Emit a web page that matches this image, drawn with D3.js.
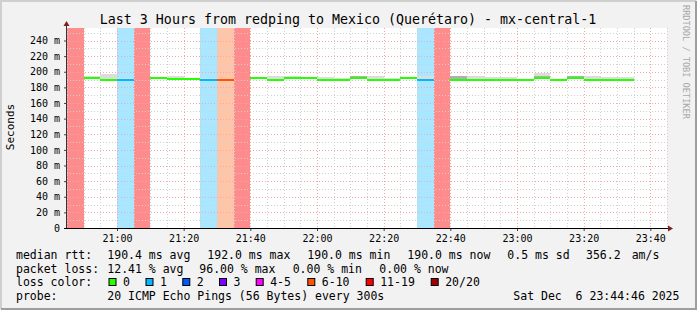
<!DOCTYPE html>
<html>
<head>
<meta charset="utf-8">
<script src="https://cdn.jsdelivr.net/npm/d3@7"></script>
<style>
  body { margin: 0; background: #fff; }
  text { font-family: "DejaVu Sans Mono", monospace; }
</style>
</head>
<body>
<script>
// 5 minute bins from 20:45 to 23:45, median rtt in ms (null = no median drawn)
var binStart = new Date(2025, 11, 6, 20, 45);
var medians = [null, 192, 189.5, 190, null, 192, 190.5, 190.5, 190, 190, null, 192,
    190, 191.5, 191.5, 190, 190, 191.5, 190, 190, 191.5, 190, null, 190,
    190, 190, 190, 190, 192, 190, 192, 190, 190, 190, null, null];
// lost pings out of 20 per bin
var losses = [19, 0, 0, 1, 19, 0, 0, 0, 1, 7, 19, 0,
    0, 0, 0, 0, 0, 0, 0, 0, 0, 1, 19, 0,
    0, 0, 0, 0, 0, 0, 0, 0, 0, 0, null, null];
// smoke: light top and darker top (ms)
var smokeHi = [null, 194, 197, 192, null, 192.5, 194, 191.5, 191.5, 190.5, null, 193,
    194, 195, 193, 193, 192, 195, 194, 192, 191.5, 195, null, 194,
    195, 193, 193, 190.5, 199, 191, 195, 194, 193, 193, null, null];
var smokeMid = [null, 193, 191, 191, null, 192.5, 191, 191, 190.5, 190.5, null, 193,
    191, 192.5, 192.5, 191, 191, 195, 191, 191, 191.5, 191, null, 194,
    191, 191, 191, 190.5, 195, 191, 195, 191, 191, 191, null, null];

var yTicks = [0, 20, 40, 60, 80, 100, 120, 140, 160, 180, 200, 220, 240];
var lossLabels = ["0", "1", "2", "3", "4-5", "6-10", "11-19", "20/20"];
var lossColors = ["#26ff00", "#00b8ff", "#0059ff", "#7e00ff", "#ff00ff", "#ff5500", "#ff0000", "#a10000"];

var title = "Last 3 Hours from redping to Mexico (Querétaro) - mx-central-1";

function lossIndex (n) {
    if (n === 0) return 0;
    if (n === 1) return 1;
    if (n === 2) return 2;
    if (n === 3) return 3;
    if (n <= 5) return 4;
    if (n <= 10) return 5;
    if (n <= 19) return 6;
    return 7;
}

function drawChart () {
    var width = 697, height = 310;
    var left = 67, right = 667, top = 28, bottom = 228;

    var svg = d3.select("body").append("svg")
        .attr("width", width)
        .attr("height", height);

    // canvas + shaded frame
    svg.append("rect").attr("width", width).attr("height", height).attr("fill", "#f2f2f2");
    svg.append("path").attr("d", "M1,309V1H696").attr("fill", "none").attr("stroke", "#cfcfcf").attr("stroke-width", 2);
    svg.append("path").attr("d", "M1,309H696V1").attr("fill", "none").attr("stroke", "#9e9e9e").attr("stroke-width", 2);

    var x = d3.scaleTime()
        .domain([binStart, new Date(binStart.getTime() + 180 * 60000)])
        .range([left, right]);
    var y = d3.scaleLinear().domain([0, 256]).range([bottom, top]);

    function binX (i) { return x(new Date(binStart.getTime() + i * 5 * 60000)); }
    var bw = binX(1) - binX(0);

    svg.append("rect")
        .attr("x", left).attr("y", top)
        .attr("width", right - left).attr("height", bottom - top)
        .attr("fill", "#fff");

    var bins = d3.range(medians.length);

    // loss background bands
    svg.append("g").attr("shape-rendering", "crispEdges").selectAll("rect")
        .data(bins.filter(function (i) { return losses[i] > 0; }))
        .enter().append("rect")
        .attr("x", function (i) { return binX(i); })
        .attr("y", top)
        .attr("width", bw)
        .attr("height", bottom - top)
        .attr("fill", function (i) { return lossColors[lossIndex(losses[i])]; })
        .attr("fill-opacity", function (i) { return lossIndex(losses[i]) >= 6 ? 0.45 : 0.34; });

    // grid
    var grid = svg.append("g").attr("shape-rendering", "crispEdges");
    var minorY = d3.range(10, 256, 10);
    grid.selectAll(".gy").data(minorY).enter().append("line")
        .attr("x1", left).attr("x2", right)
        .attr("y1", function (d) { return Math.round(y(d)) + 0.5; })
        .attr("y2", function (d) { return Math.round(y(d)) + 0.5; })
        .attr("stroke", function (d) { return d % 20 === 0 ? "#f0a8a8" : "#d0d0d0"; })
        .attr("stroke-dasharray", "1,2");
    var minorX = x.ticks(d3.timeMinute.every(5));
    grid.selectAll(".gx").data(minorX).enter().append("line")
        .attr("y1", top).attr("y2", bottom)
        .attr("x1", function (d) { return Math.round(x(d)) + 0.5; })
        .attr("x2", function (d) { return Math.round(x(d)) + 0.5; })
        .attr("stroke", function (d) { return d.getMinutes() % 20 === 0 ? "#f0a8a8" : "#d0d0d0"; })
        .attr("stroke-dasharray", "1,2");

    var marks = svg.append("g").attr("shape-rendering", "crispEdges");

    // smoke
    var withSmoke = bins.filter(function (i) { return smokeHi[i] !== null && medians[i] !== null; });
    marks.append("g").selectAll("rect")
        .data(withSmoke)
        .enter().append("rect")
        .attr("x", function (i) { return binX(i); })
        .attr("y", function (i) { return Math.round(y(smokeHi[i])); })
        .attr("width", bw)
        .attr("height", function (i) { return Math.max(0, Math.round(y(medians[i])) - Math.round(y(smokeHi[i]))); })
        .attr("fill", "#dcdcdc");
    marks.append("g").selectAll("rect")
        .data(withSmoke)
        .enter().append("rect")
        .attr("x", function (i) { return binX(i); })
        .attr("y", function (i) { return Math.round(y(smokeMid[i])); })
        .attr("width", bw)
        .attr("height", function (i) { return Math.max(0, Math.round(y(medians[i])) - Math.round(y(smokeMid[i]))); })
        .attr("fill", "#b0b0b0");

    // median, coloured by loss
    marks.append("g").selectAll("rect")
        .data(bins.filter(function (i) { return medians[i] !== null; }))
        .enter().append("rect")
        .attr("x", function (i) { return binX(i); })
        .attr("y", function (i) { return Math.round(y(medians[i])) - 1; })
        .attr("width", bw)
        .attr("height", 2)
        .attr("fill", function (i) { return lossColors[lossIndex(losses[i])]; });

    // axes
    var yAxis = d3.axisLeft(y).tickValues(yTicks).tickSize(3).tickPadding(4)
        .tickFormat(function (d) { return d === 0 ? "0" : d + " m"; });
    var yg = svg.append("g").attr("transform", "translate(" + left + ",0)").call(yAxis);
    var xAxis = d3.axisBottom(x).ticks(d3.timeMinute.every(20)).tickSize(3).tickPadding(4)
        .tickFormat(d3.timeFormat("%H:%M"));
    var xg = svg.append("g").attr("transform", "translate(0," + bottom + ")").call(xAxis);
    [yg, xg].forEach(function (g) {
        g.select(".domain").remove();
        g.selectAll("line").attr("stroke", "#444");
        g.selectAll("text").attr("font-size", 10).attr("fill", "#000")
            .attr("font-family", "DejaVu Sans Mono");
    });
    xg.selectAll(".tick").filter(function (d) { return x(d) > right - 2; }).select("line").remove();

    svg.append("line").attr("x1", left - 0.5).attr("x2", left - 0.5).attr("y1", top - 4).attr("y2", bottom)
        .attr("stroke", "#333");
    svg.append("line").attr("x1", left - 3).attr("x2", right + 3).attr("y1", bottom + 0.5).attr("y2", bottom + 0.5)
        .attr("stroke", "#000");
    svg.append("path").attr("d", "M" + (left - 3.5) + "," + (top - 2) + "L" + (left - 0.5) + "," + (top - 7) + "L" + (left + 2.5) + "," + (top - 2) + "Z")
        .attr("fill", "#7f1f1f");
    svg.append("path").attr("d", "M" + (right + 1) + "," + (bottom - 2.5) + "L" + (right + 6) + "," + (bottom + 0.5) + "L" + (right + 1) + "," + (bottom + 3.5) + "Z")
        .attr("fill", "#7f1f1f");

    // titles
    svg.append("text").attr("x", 348).attr("y", 24).attr("text-anchor", "middle")
        .attr("font-size", 13.3).text(title);
    svg.append("text").attr("transform", "translate(14,127) rotate(-90)")
        .attr("text-anchor", "middle").attr("font-size", 11).text("Seconds");
    svg.append("text").attr("transform", "translate(683,5) rotate(90)")
        .attr("font-size", 8.6).attr("fill", "#a8a8a8").text("RRDTOOL / TOBI OETIKER");

    // legend
    var fs = 11.5;
    var rows = [
        [[16, "median rtt:"], [107.3, "190.4 ms avg"], [207.3, "192.0 ms max"], [307.3, "190.0 ms min"],
         [407.3, "190.0 ms now"], [507.3, "0.5 ms sd"], [586, "356.2"], [631.7, "am/s"]],
        [[16, "packet loss:"], [107.3, "12.41 % avg"], [199.3, "96.00 % max"], [292.7, "0.00 % min"],
         [379.3, "0.00 % now"]],
        [[16, "loss color:"]],
        [[16, "probe:"], [107.3, "20 ICMP Echo Pings (56 Bytes) every 300s"], [513.3, "Sat Dec  6 23:44:46 2025"]]
    ];
    var rowY = [259, 272.5, 286, 299.5];
    rows.forEach(function (row, r) {
        row.forEach(function (cell) {
            svg.append("text").attr("x", cell[0]).attr("y", rowY[r])
                .attr("font-size", fs).attr("xml:space", "preserve")
                .style("white-space", "pre").text(cell[1]);
        });
    });
    var swatchX = [108.5, 145.5, 182.3, 219, 255.7, 307.3, 365.7, 430.7];
    var leg = svg.append("g").selectAll("g").data(lossLabels).enter().append("g");
    leg.append("rect")
        .attr("x", function (d, i) { return swatchX[i] + 0.5; })
        .attr("y", 278.5)
        .attr("width", 7).attr("height", 7)
        .attr("fill", function (d, i) { return lossColors[i]; })
        .attr("stroke", "#000");
    leg.append("text")
        .attr("x", function (d, i) { return swatchX[i] + 14.5; })
        .attr("y", rowY[2]).attr("font-size", fs)
        .text(function (d) { return d; });
}

drawChart();
</script>
</body>
</html>
